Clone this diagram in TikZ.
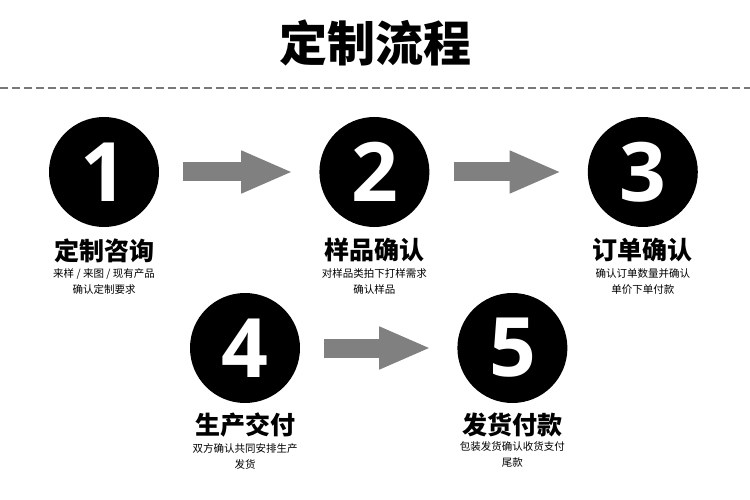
\documentclass[tikz,border=0pt]{standalone}
\usepackage{fontspec}
\setmainfont{Noto Sans CJK SC}
\newfontfamily\numfont{Open Sans}
\usepackage{xcolor}
\usepackage{tikz}
\usetikzlibrary{positioning, arrows.meta}

\definecolor{arrowgray}{RGB}{128,128,128}
\definecolor{dashgray}{RGB}{120,120,120}

\begin{document}
\begin{tikzpicture}[
    x=1pt, y=-1pt,
    node distance=11pt,
    stepcircle/.style={
        circle,
        fill=black,
        text=white,
        minimum size=110pt,
        inner sep=0pt,
        font=\numfont\bfseries\fontsize{82}{82}\selectfont
    },
    steptitle/.style={
        inner sep=0pt,
        font=\bfseries\fontsize{25}{25}\selectfont
    },
    stepnote/.style={
        inner sep=0pt,
        align=center,
        font=\fontsize{10.5}{16}\selectfont
    },
    arrow/.style={
        arrowgray,
        line width=19pt,
        -{Triangle[length=52pt, width=39pt]},
        shorten <=24pt,
        shorten >=26pt
    }
]
\useasboundingbox (0,0) rectangle (750,500);

% Top
\node[font=\bfseries\fontsize{48}{48}\selectfont] (title) at (375,43) {定制流程};
\coordinate (ruleleft) at (0,88);
\coordinate (ruleright) at (750,88);
\draw[dashgray, line width=2pt, dash pattern=on 8pt off 4pt] (ruleleft) -- (ruleright);

% First row
\node[stepcircle] (s1) at (104,172) {1};
\node[stepcircle, right=160pt of s1] (s2) {2};
\node[stepcircle, right=158pt of s2] (s3) {3};

% Second row
\node[stepcircle] (s4) at (245,348) {4};
\node[stepcircle, right=157pt of s4] (s5) {5};

% Titles and notes
\node[steptitle, below=of s1] (t1) {定制咨询};
\node[stepnote, below=6pt of t1] (n1) {来样 / 来图 / 现有产品\\确认定制要求};
\node[steptitle, below=of s2] (t2) {样品确认};
\node[stepnote, below=6pt of t2] (n2) {对样品类拍下打样需求\\确认样品};
\node[steptitle, below=of s3] (t3) {订单确认};
\node[stepnote, below=6pt of t3] (n3) {确认订单数量并确认\\单价下单付款};
\node[steptitle, below=9pt of s4] (t4) {生产交付};
\node[stepnote, below=6pt of t4] (n4) {双方确认共同安排生产\\发货};
\node[steptitle, below=9pt of s5] (t5) {发货付款};
\node[stepnote, below=5pt of t5] (n5) {包装发货确认收货支付\\尾款};

% Arrows
\draw[arrow] (s1) -- (s2);
\draw[arrow] (s2) -- (s3);
\draw[arrow] (s4) -- (s5);

\end{tikzpicture}
\end{document}
